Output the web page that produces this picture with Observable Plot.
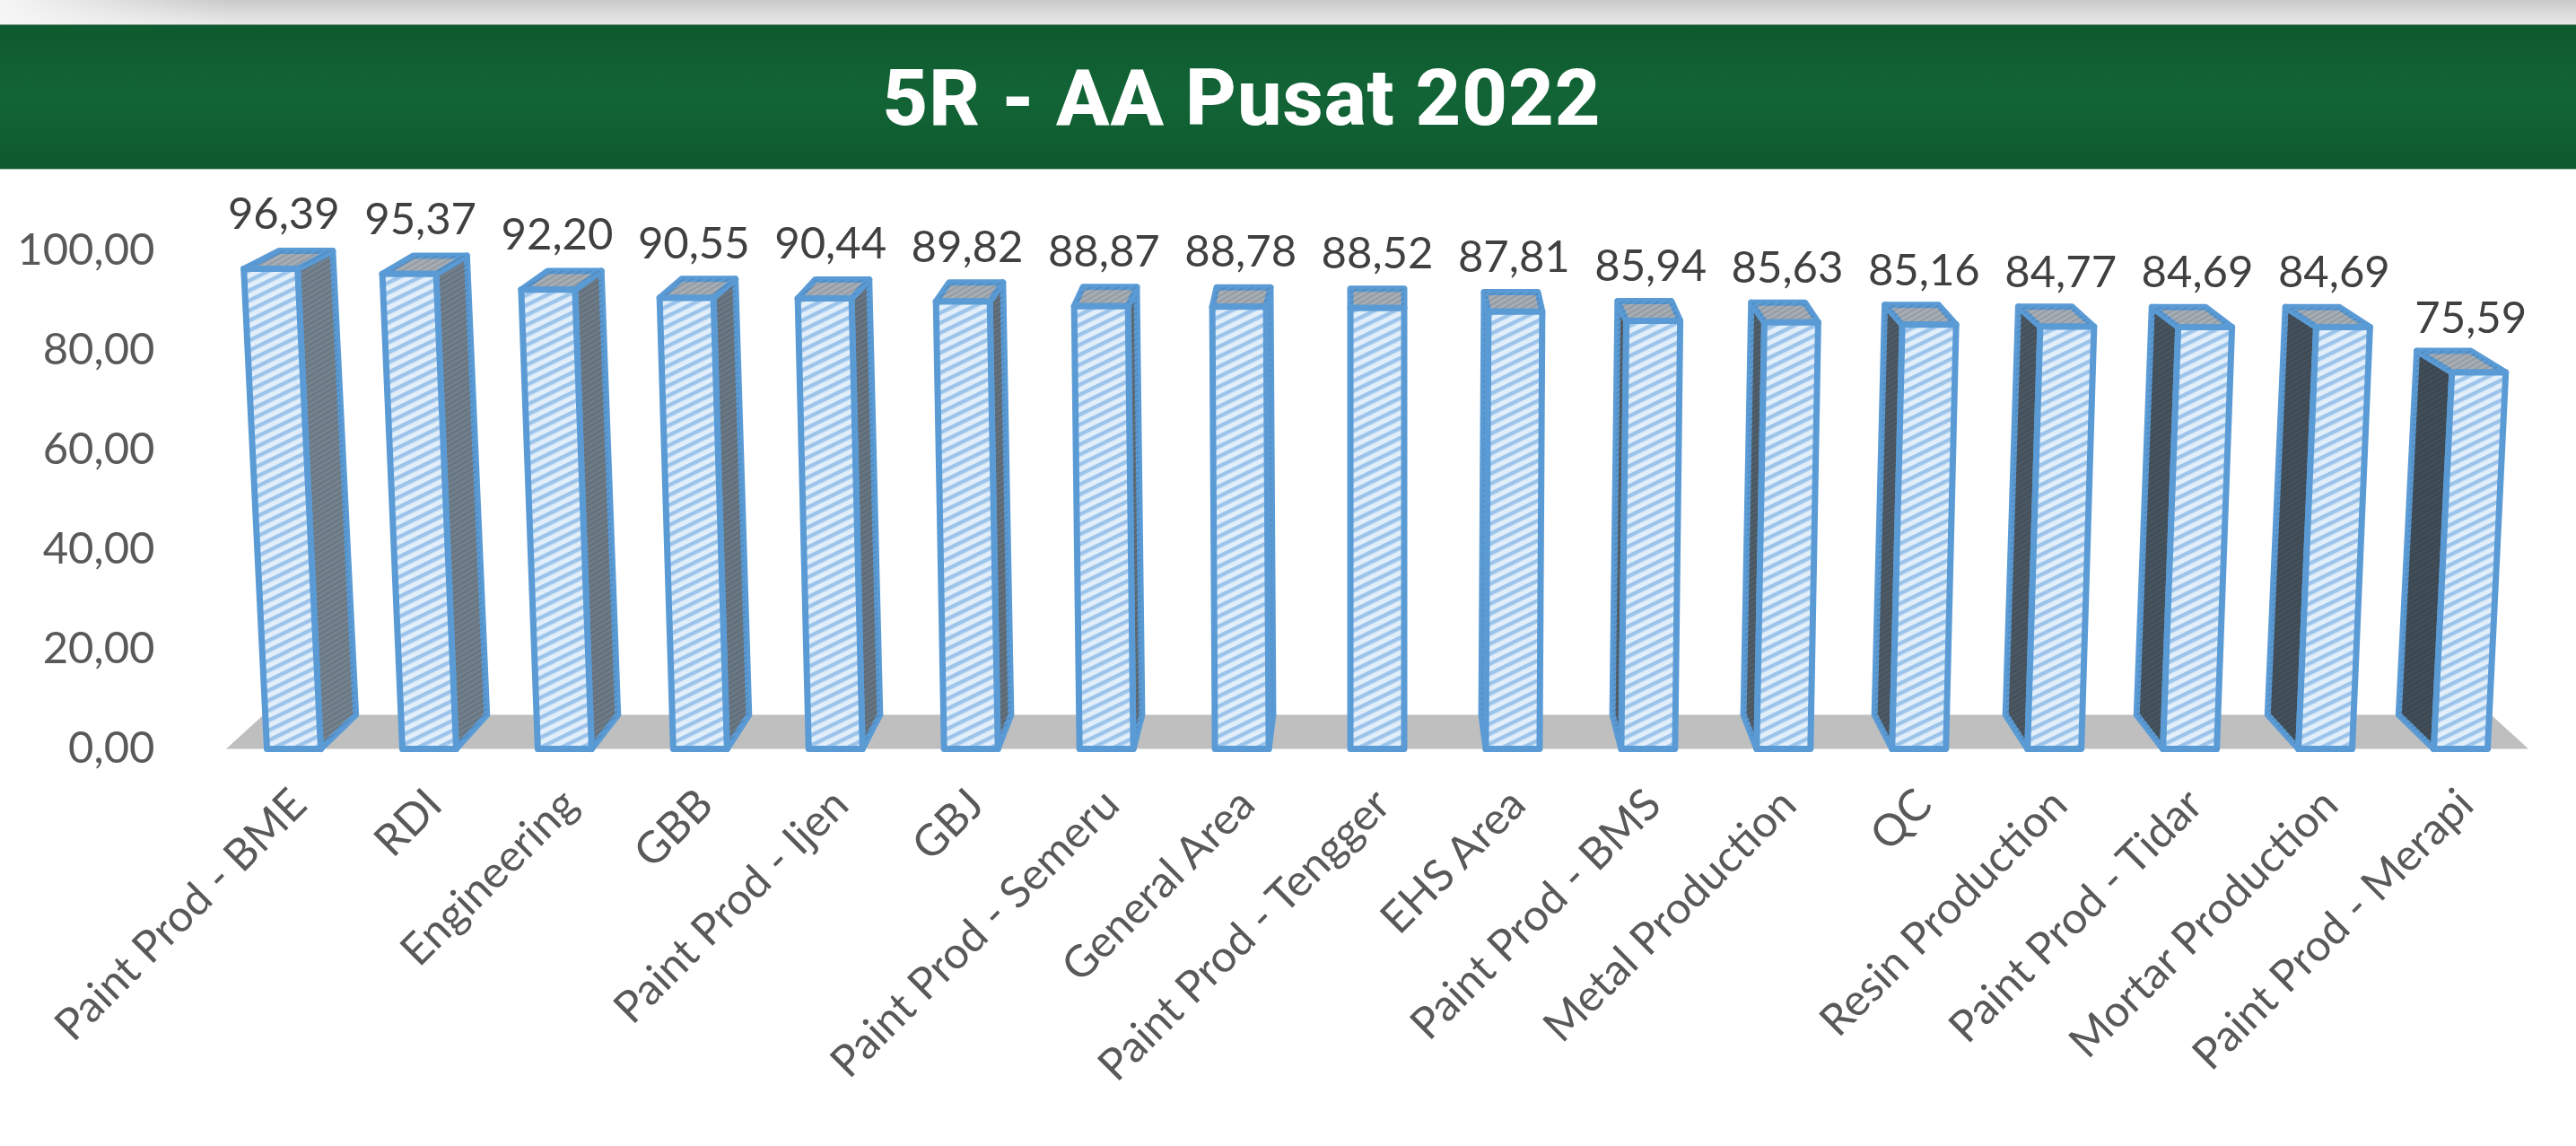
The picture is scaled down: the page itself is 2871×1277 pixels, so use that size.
<!DOCTYPE html>
<html>
<head>
<meta charset="utf-8">
<script src="https://cdn.jsdelivr.net/npm/d3@7"></script>
<script src="https://cdn.jsdelivr.net/npm/@observablehq/plot@0.6"></script>
<style>
  html, body { margin: 0; padding: 0; background: #fff; }
  #page { position: relative; width: 2871px; height: 1277px; overflow: hidden; }
  #strip { height: 27px; background: linear-gradient(90deg, #f6f6f6 0, rgba(246,246,246,0) 260px), linear-gradient(180deg, #c9c9c9, #e8e9e8); }
  #banner { position: relative; height: 162px; box-sizing: border-box; background: linear-gradient(180deg, #0f5a2f 0%, #126436 50%, #0e5a2e 100%); border-top: 1px solid #7f9a88; border-bottom: 1px solid #a9bdb0; }
  #title { position: absolute; left: 1384px; top: 50%; transform: translate(-50%, -50%); color: #fff; font: 800 88px Roboto, sans-serif; letter-spacing: 1px; white-space: nowrap; }
  svg { display: block; }
</style>
</head>
<body>
<div id="page">
  <div id="strip"></div>
  <div id="banner"><div id="title">5R - AA Pusat 2022</div></div>
  <div id="chart"></div>
</div>
<script>
const categories = ["Paint Prod - BME","RDI","Engineering","GBB","Paint Prod - Ijen","GBJ","Paint Prod - Semeru","General Area","Paint Prod - Tengger","EHS Area","Paint Prod - BMS","Metal Production","QC","Resin Production","Paint Prod - Tidar","Mortar Production","Paint Prod - Merapi"];
const scores = [96.39,95.37,92.20,90.55,90.44,89.82,88.87,88.78,88.52,87.81,85.94,85.63,85.16,84.77,84.69,84.69,75.59];
const yTicks = [0,20,40,60,80,100];

const comma = (v) => v.toFixed(2).replace(".", ",");
const mid = (categories.length - 1) / 2;
const unitX = 1 / 151, unitY = 1 / 5.55;

// 3D projection of a bar corner, in data units
const corner = (i, side, v, back) => {
  const d = back ? 1 : 0;
  const lean = (i - mid) * 0.0335 * v;
  const depthX = (mid - i) * 4.9 * d;
  const depthY = d * (38 - 18 * v / 96.39);
  return { x: i + (side * 30 + lean + depthX) * unitX, y: v + depthY * unitY };
};
const poly = (id, pts, extra = {}) => [...pts, pts[0]].map((p) => ({ id, ...p, ...extra }));

const bars = scores.map((v, i) => ({ i, v }));
const sideColor = d3.interpolateRgb("#74838f", "#414e59");
const front = bars.flatMap(({ i, v }) => poly(i, [corner(i,-1,0,0), corner(i,1,0,0), corner(i,1,v,0), corner(i,-1,v,0)]));
const top3d = bars.flatMap(({ i, v }) => poly(i, [corner(i,-1,v,0), corner(i,1,v,0), corner(i,1,v,1), corner(i,-1,v,1)]));
const sides = bars.filter((d) => d.i !== mid).flatMap(({ i, v }) => {
  const s = i < mid ? 1 : -1;
  return poly(i, [corner(i,s,0,0), corner(i,s,v,0), corner(i,s,v,1), corner(i,s,0,1)], { color: sideColor(i / (categories.length - 1)) });
});
const lastI = categories.length - 1;
const floor = poly("floor", [corner(-0.5,0,0,0), corner(lastI + 0.5,0,0,0), corner(lastI + 0.5,0,0,1), corner(-0.5,0,0,1)]);

const defs = () => {
  const ns = "http://www.w3.org/2000/svg";
  const g = document.createElementNS(ns, "defs");
  g.innerHTML = `
    <pattern id="hatch" patternUnits="userSpaceOnUse" width="12" height="10" patternTransform="rotate(-26)">
      <rect width="12" height="10" fill="#e2effa"/>
      <rect y="0" width="12" height="4.5" fill="#9cc4ea"/>
    </pattern>
    <pattern id="stipple" patternUnits="userSpaceOnUse" width="5" height="5" patternTransform="rotate(-30)">
      <rect width="5" height="2" fill="#000" fill-opacity="0.1"/>
    </pattern>`;
  return g;
};

const blue = "#5b9bd5";
const chart = Plot.plot({
  width: 2871,
  height: 1088,
  marginLeft: 172,
  marginRight: 0,
  marginTop: 0,
  marginBottom: 443,
  style: { fontFamily: "Lato, sans-serif", background: "transparent" },
  x: { domain: [0, lastI], range: [327, 2742] },
  y: { domain: [0, 100], range: [645, 90] },
  color: { type: "identity" },
  marks: [
    defs,
    Plot.line(floor, { x: "x", y: "y", z: "id", fill: "#bfbfbf", stroke: "none" }),
    Plot.line(sides, { x: "x", y: "y", z: "id", fill: "color", stroke: blue, strokeWidth: 7 }),
    Plot.line(sides, { x: "x", y: "y", z: "id", fill: "url(#stipple)", stroke: "none" }),
    Plot.line(top3d, { x: "x", y: "y", z: "id", fill: "#a6adb4", stroke: blue, strokeWidth: 7 }),
    Plot.line(top3d, { x: "x", y: "y", z: "id", fill: "url(#stipple)", stroke: "none" }),
    Plot.line(front, { x: "x", y: "y", z: "id", fill: "url(#hatch)", stroke: blue, strokeWidth: 7 }),
    Plot.text(bars, {
      x: (d) => d.i + (d.i - mid) * 1.4 * unitX,
      y: (d) => d.v + 60 * unitY,
      text: (d) => comma(d.v),
      fontSize: 49,
      fill: "#404040"
    }),
    Plot.axisY({ ticks: yTicks, tickFormat: comma, tickSize: 0, tickPadding: 0, fontSize: 49, fill: "#595959", label: null }),
    Plot.axisX({ ticks: categories.map((_, i) => i), tickRotate: -45, tickFormat: (i) => categories[i], tickSize: 0, tickPadding: 54, dx: 6, fontSize: 49, fill: "#595959", label: null })
  ]
});
document.getElementById("chart").appendChild(chart);
</script>
</body>
</html>
